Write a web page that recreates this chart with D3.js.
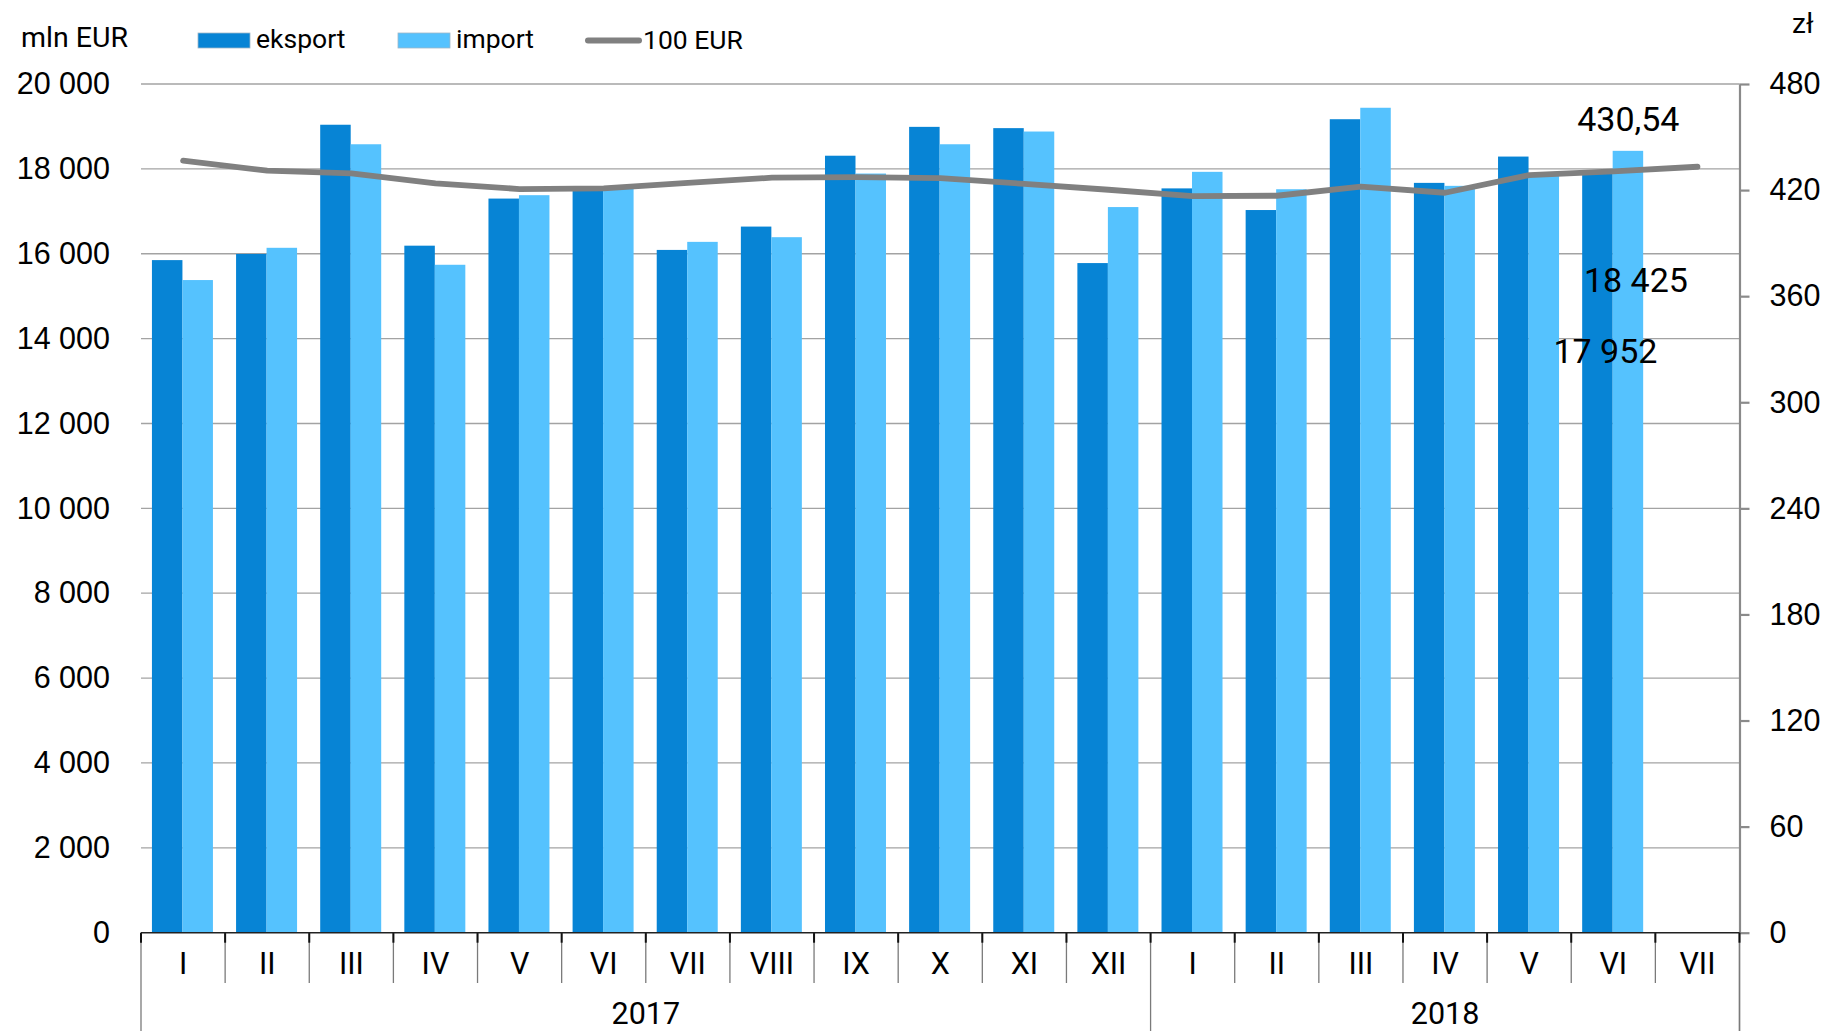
<!DOCTYPE html>
<html lang="pl">
<head>
<meta charset="utf-8">
<title>Eksport i import – mln EUR, kurs 100 EUR</title>
<script src="https://cdn.jsdelivr.net/npm/d3@7/dist/d3.min.js"></script>
<style>
  html, body { margin: 0; padding: 0; background: #ffffff; }
  svg { display: block; font-family: Roboto, "Noto Sans", "DejaVu Sans", sans-serif; }
</style>
</head>
<body>
<svg id="chart" width="1825" height="1031"></svg>
<script>
// Months (Roman numerals), grouped by year
const months = ["I","II","III","IV","V","VI","VII","VIII","IX","X","XI","XII",
                "I","II","III","IV","V","VI","VII"];
const yearLabels = ["2017", "2018"];
const yearSpans = [12, 7];

// Trade values, mln EUR
const eksport = [15850, 15995, 19040, 16190, 17300, 17520, 16090, 16640, 18310, 18990, 18960, 15780,
                 17540, 17030, 19170, 17670, 18290, 17952, null];
const importV = [15380, 16140, 18580, 15740, 17380, 17560, 16280, 16390, 17890, 18580, 18880, 17100,
                 17930, 17520, 19440, 17600, 17850, 18425, null];
// Price of 100 EUR in zł
const kurs100 = [436.6, 431.0, 429.5, 423.8, 420.6, 421.0, 424.1, 427.0, 427.3, 426.8, 423.5, 420.2,
                 416.6, 416.8, 421.9, 418.5, 428.5, 430.54, 433.2];

const leftTicks = [0, 2000, 4000, 6000, 8000, 10000, 12000, 14000, 16000, 18000, 20000];
const rightTicks = [0, 60, 120, 180, 240, 300, 360, 420, 480];
const seriesNames = ["eksport", "import"];
const seriesColors = ["#0784d5", "#55c2fe"];
const lineColor = "#808080";

const svg = d3.select("#chart");
const W = 1825, H = 1031;
const plot = { left: 141, right: 1739.5, top: 84, bottom: 932.7 };

svg.append("rect").attr("width", W).attr("height", H).attr("fill", "#fff");

const plLocale = d3.formatLocale({ decimal: ",", thousands: " ", grouping: [3], currency: ["", " zł"] });
const fmtInt = plLocale.format(",d");
const fmtDec = plLocale.format(",.2f");

const idx = d3.range(months.length);
const x = d3.scaleBand().domain(idx).range([plot.left, plot.right]).paddingInner(0).paddingOuter(0);
const bw = x.bandwidth();
const xs = d3.scaleBand().domain(seriesNames).range([bw * 0.13, bw * 0.855]);
const yL = d3.scaleLinear().domain([0, 20000]).range([plot.bottom, plot.top]);
const yR = d3.scaleLinear().domain([0, 480]).range([plot.bottom, plot.top]);

// Horizontal gridlines
svg.append("g")
  .selectAll("line")
  .data(leftTicks.filter(d => d > 0))
  .join("line")
  .attr("x1", plot.left).attr("x2", plot.right)
  .attr("y1", d => yL(d)).attr("y2", d => yL(d))
  .attr("stroke", "#a3a3a3").attr("stroke-width", 1.3);

// Bars
const series = [eksport, importV];
const barG = svg.append("g");
series.forEach((vals, s) => {
  barG.append("g")
    .selectAll("rect")
    .data(idx.filter(i => vals[i] != null))
    .join("rect")
    .attr("x", i => x(i) + xs(seriesNames[s]))
    .attr("width", xs.bandwidth())
    .attr("y", i => yL(vals[i]))
    .attr("height", i => yL(0) - yL(vals[i]))
    .attr("fill", seriesColors[s]);
});

// Left axis (labels only)
const axL = svg.append("g")
  .attr("transform", `translate(${plot.left},0)`)
  .call(d3.axisLeft(yL).tickValues(leftTicks).tickSize(0).tickPadding(31).tickFormat(fmtInt));
axL.select(".domain").remove();
axL.selectAll("text").attr("font-size", 30.5).attr("fill", "#000").attr("font-family", null);

// Right axis
const axR = svg.append("g")
  .attr("transform", `translate(${plot.right},0)`)
  .call(d3.axisRight(yR).tickValues(rightTicks).tickSize(10).tickPadding(20).tickSizeOuter(0).tickFormat(d3.format("d")));
axR.select(".domain").attr("stroke", "#8a8a8a").attr("stroke-width", 2.2);
axR.selectAll(".tick line").attr("stroke", "#8a8a8a").attr("stroke-width", 2.2);
axR.selectAll("text").attr("font-size", 30.5).attr("fill", "#000").attr("font-family", null);

// Right axis continues down as the right edge of the category box
svg.append("line")
  .attr("x1", plot.right).attr("x2", plot.right)
  .attr("y1", plot.bottom).attr("y2", H)
  .attr("stroke", "#8a8a8a").attr("stroke-width", 1.5);

// Category box: month dividers and year dividers
const yearStarts = [0];
yearSpans.forEach((n, k) => yearStarts.push(yearStarts[k] + n));
const boundaries = d3.range(months.length + 1);
const xEdge = i => i < months.length ? x(i) : plot.right;
svg.append("g")
  .selectAll("line")
  .data(boundaries)
  .join("line")
  .attr("x1", i => xEdge(i)).attr("x2", i => xEdge(i))
  .attr("y1", plot.bottom)
  .attr("y2", i => yearStarts.includes(i) ? H : 983)
  .attr("stroke", "#7a7a7a").attr("stroke-width", 1.3);
// short dark ticks on the baseline
svg.append("g")
  .selectAll("line")
  .data(boundaries)
  .join("line")
  .attr("x1", i => xEdge(i)).attr("x2", i => xEdge(i))
  .attr("y1", plot.bottom).attr("y2", plot.bottom + 10)
  .attr("stroke", "#111").attr("stroke-width", 2);

// Zero baseline
svg.append("line")
  .attr("x1", plot.left).attr("x2", plot.right)
  .attr("y1", yL(0)).attr("y2", yL(0))
  .attr("stroke", "#222").attr("stroke-width", 1.6);

// Month labels
svg.append("g")
  .selectAll("text")
  .data(idx)
  .join("text")
  .attr("x", i => x(i) + bw / 2)
  .attr("y", 974)
  .attr("text-anchor", "middle")
  .attr("font-size", 30.5)
  .text(i => months[i]);

// Year labels
svg.append("g")
  .selectAll("text")
  .data(yearLabels)
  .join("text")
  .attr("x", (d, k) => (xEdge(yearStarts[k]) + xEdge(yearStarts[k + 1])) / 2)
  .attr("y", 1024)
  .attr("text-anchor", "middle")
  .attr("font-size", 30.5)
  .text(d => d);

// Exchange-rate line
const line = d3.line()
  .x(i => x(i) + bw / 2)
  .y(i => yR(kurs100[i]));
svg.append("path")
  .datum(idx)
  .attr("d", line)
  .attr("fill", "none")
  .attr("stroke", lineColor)
  .attr("stroke-width", 5.8)
  .attr("stroke-linecap", "round")
  .attr("stroke-linejoin", "round");

// Value labels for June 2018
const last = 17;
const labG = svg.append("g").attr("font-size", 34).attr("text-anchor", "middle");
labG.append("text")
  .attr("x", x(last) + bw / 2 + 15)
  .attr("y", yR(kurs100[last]) - 40)
  .text(fmtDec(kurs100[last]));
labG.append("text")
  .attr("x", x(last) + xs("import") + xs.bandwidth() / 2 + 8)
  .attr("y", yL(importV[last]) + 141)
  .text(fmtInt(importV[last]));
labG.append("text")
  .attr("x", x(last) + xs("eksport") + xs.bandwidth() / 2 + 8)
  .attr("y", yL(eksport[last]) + 192)
  .text(fmtInt(eksport[last]));

// Unit captions
svg.append("text").attr("x", 21).attr("y", 47).attr("font-size", 28.5).text("mln EUR");
svg.append("text").attr("x", 1792).attr("y", 33).attr("font-size", 28).text("zł");

// Legend
const legend = svg.append("g").attr("font-size", 26.5);
const legendItems = [
  { name: "eksport", type: "rect", color: seriesColors[0], x: 198 },
  { name: "import", type: "rect", color: seriesColors[1], x: 398 },
  { name: "100 EUR", type: "line", color: lineColor, x: 586 }
];
legendItems.forEach(it => {
  if (it.type === "rect") {
    legend.append("rect")
      .attr("x", it.x).attr("y", 33).attr("width", 52).attr("height", 15)
      .attr("fill", it.color).attr("stroke", "#9fb7c9").attr("stroke-width", 0.8);
    legend.append("text").attr("x", it.x + 58).attr("y", 47.5).text(it.name);
  } else {
    legend.append("line")
      .attr("x1", it.x + 2).attr("x2", it.x + 53).attr("y1", 40.5).attr("y2", 40.5)
      .attr("stroke", it.color).attr("stroke-width", 6).attr("stroke-linecap", "round");
    legend.append("text").attr("x", it.x + 57).attr("y", 49).text(it.name);
  }
});
</script>
</body>
</html>
